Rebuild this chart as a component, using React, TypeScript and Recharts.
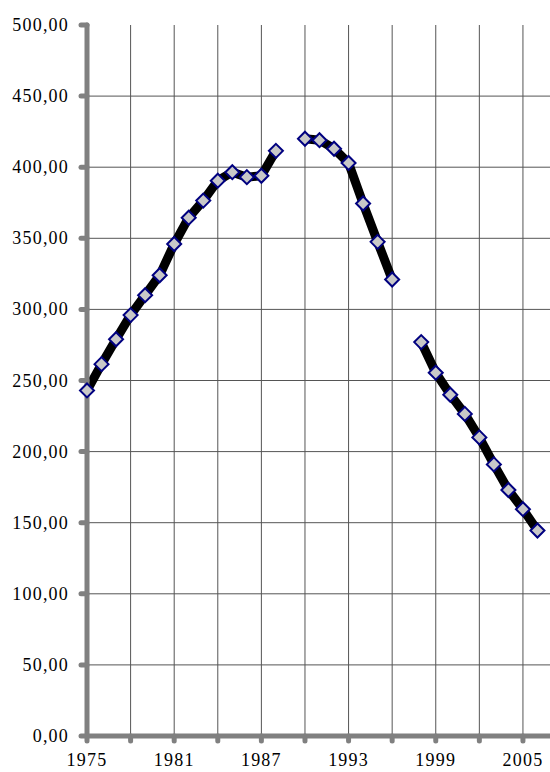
import { CartesianGrid, Line, LineChart, XAxis, YAxis } from "recharts";

// valores; null = ano sem dado
const years = [
  1975, 1976, 1977, 1978, 1979, 1980, 1981, 1982, 1983, 1984, 1985, 1986, 1987, 1988, 1989, 1990,
  1991, 1992, 1993, 1994, 1995, 1996, 1997, 1998, 1999, 2000, 2001, 2002, 2003, 2004, 2005, 2006,
];
const values: (number | null)[] = [
  243, 261.5, 279, 296, 310, 324, 346, 364.5, 376.5, 390.5, 396.5, 393, 394, 411.5, null, 420,
  419, 413, 403, 374.5, 347.5, 321, null, 277, 255.5, 240, 226.5, 210, 191, 173, 159.5, 144.5,
];
const xTicks = [1975, 1978, 1981, 1984, 1987, 1990, 1993, 1996, 1999, 2002, 2005];
const xLabels = [1975, 1981, 1987, 1993, 1999, 2005];
const yTicks = [0, 50, 100, 150, 200, 250, 300, 350, 400, 450, 500];

const data = years.map((y, i) => ({ year: y, v: values[i] }));

const axisColor = "#808080";
const serif = "'Liberation Serif', 'Times New Roman', serif";
const labelStyle = { fontFamily: serif, fontSize: 18, letterSpacing: 1.2, fill: "#000" };

function XTick(props: any) {
  const { x, y, payload } = props;
  const v = payload.value;
  if (!xLabels.includes(v)) return null;
  return (
    <text x={x} y={y + 25} textAnchor="middle" style={labelStyle}>
      {String(v)}
    </text>
  );
}

function YTick(props: any) {
  const { x, y, payload } = props;
  return (
    <text x={x} y={y + 6} textAnchor="end" style={labelStyle}>
      {payload.value.toFixed(2).replace(".", ",")}
    </text>
  );
}

function Diamond(props: any) {
  const { cx, cy } = props;
  if (cx == null || cy == null || props.value == null) return null;
  const r = 7;
  return (
    <polygon
      points={`${cx},${cy - r} ${cx + r},${cy} ${cx},${cy + r} ${cx - r},${cy}`}
      fill="#c8c8c8"
      stroke="#000080"
      strokeWidth={2}
    />
  );
}

export default function App() {
  return (
    <div
      style={{
        position: "absolute",
        left: 0,
        top: 0,
        width: 550,
        height: 772,
        overflow: "hidden",
        background: "#fff",
      }}
    >
      <LineChart width={560} height={772} data={data} margin={{ top: 25, right: 8, bottom: 0, left: 0 }}>
        <CartesianGrid
          stroke="#555"
          strokeWidth={1}
          horizontalValues={[50, 100, 150, 200, 250, 300, 350, 400, 450]}
          verticalValues={xTicks.slice(1)}
        />
        <XAxis
          dataKey="year"
          type="number"
          domain={[1975, 2007]}
          ticks={xTicks}
          interval={0}
          height={36}
          axisLine={{ stroke: axisColor, strokeWidth: 5 }}
          tickLine={{ stroke: axisColor, strokeWidth: 5, strokeLinecap: "round" }}
          tickSize={5}
          tickMargin={0}
          tick={<XTick />}
        />
        <YAxis
          type="number"
          domain={[0, 500]}
          ticks={yTicks}
          interval={0}
          width={87}
          axisLine={{ stroke: axisColor, strokeWidth: 5, strokeLinecap: "round" }}
          tickLine={{ stroke: axisColor, strokeWidth: 5, strokeLinecap: "round" }}
          tickSize={6}
          tickMargin={12}
          tick={<YTick />}
        />
        <Line
          dataKey="v"
          stroke="#000"
          strokeWidth={9}
          dot={<Diamond />}
          activeDot={false}
          connectNulls={false}
          isAnimationActive={false}
        />
      </LineChart>
    </div>
  );
}
